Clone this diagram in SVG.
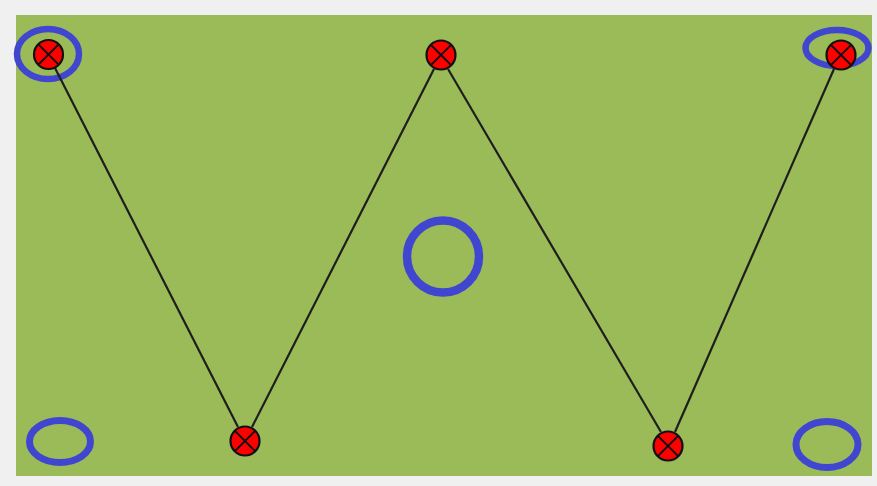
<svg xmlns="http://www.w3.org/2000/svg" width="877" height="486" viewBox="0 0 877 486">
<style>
.node circle{fill:#ff0000;stroke:#111;stroke-width:2.2}
.node line{stroke:#111;stroke-width:1.8}
.ring{fill:none;stroke:#4046d0}
.edge{stroke:#1e1e1e;stroke-width:2.2;fill:none}
</style>
<rect x="0" y="0" width="877" height="486" fill="#f0f0f0"/>
<rect x="16" y="15" width="856" height="461" fill="#9bbb59"/>
<g id="rings">
<ellipse class="ring" cx="48" cy="54" rx="31" ry="25" stroke-width="6.5"/>
<ellipse class="ring" cx="837" cy="48" rx="31.5" ry="18" stroke-width="6.5"/>
<ellipse class="ring" cx="60" cy="441.5" rx="30.5" ry="21" stroke-width="7"/>
<ellipse class="ring" cx="827" cy="444.5" rx="31" ry="23" stroke-width="7"/>
<circle class="ring" cx="443" cy="256.5" r="36" stroke-width="8.5"/>
</g>
<g id="connectors">
<line class="edge" x1="55" y1="68" x2="238" y2="427"/>
<line class="edge" x1="252" y1="427" x2="434" y2="69"/>
<line class="edge" x1="448" y1="69" x2="661" y2="432"/>
<line class="edge" x1="675" y1="432" x2="834" y2="69"/>
</g>
<g id="n1" class="node" transform="translate(48.5,54.5)"><circle r="14.5"/><line x1="-10" y1="-10" x2="10" y2="10"/><line x1="-10" y1="10" x2="10" y2="-10"/></g>
<g id="n2" class="node" transform="translate(245,441)"><circle r="14.5"/><line x1="-10" y1="-10" x2="10" y2="10"/><line x1="-10" y1="10" x2="10" y2="-10"/></g>
<g id="n3" class="node" transform="translate(441,55)"><circle r="14.5"/><line x1="-10" y1="-10" x2="10" y2="10"/><line x1="-10" y1="10" x2="10" y2="-10"/></g>
<g id="n4" class="node" transform="translate(668,446)"><circle r="14.5"/><line x1="-10" y1="-10" x2="10" y2="10"/><line x1="-10" y1="10" x2="10" y2="-10"/></g>
<g id="n5" class="node" transform="translate(841,55)"><circle r="14.5"/><line x1="-10" y1="-10" x2="10" y2="10"/><line x1="-10" y1="10" x2="10" y2="-10"/></g>
</svg>
